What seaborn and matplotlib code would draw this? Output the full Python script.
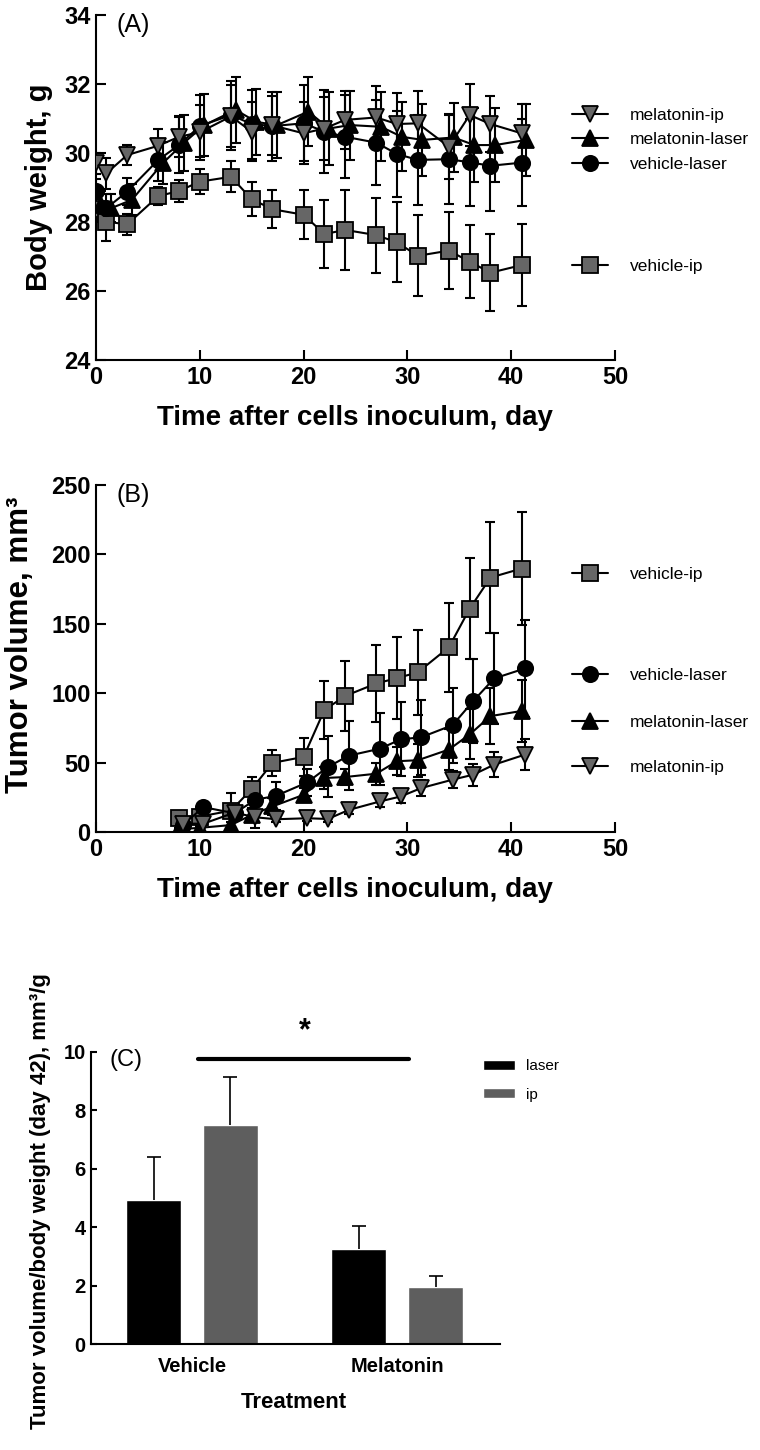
import numpy as np
import pandas as pd
import matplotlib
matplotlib.use("Agg")
import matplotlib.pyplot as plt
from matplotlib.lines import Line2D
from matplotlib.legend import Legend
import seaborn as sns

# ---- data ----
# (A) body weight, g
days_a = [0, 1, 3, 6, 8, 10, 13, 15, 17, 20, 22, 24, 27, 29, 31, 34, 36, 38, 41]
bw_veh_ip = [28.37, 28.01, 27.93, 28.75, 28.90, 29.17, 29.31, 28.66, 28.37, 28.21,
             27.65, 27.77, 27.62, 27.41, 27.02, 27.17, 26.85, 26.53, 26.75]
bw_veh_ip_err = [0.3, 0.55, 0.3, 0.26, 0.33, 0.37, 0.45, 0.5, 0.55, 0.71,
                 0.98, 1.17, 1.09, 1.16, 1.17, 1.11, 1.06, 1.11, 1.18]
bw_veh_laser = [28.90, 28.40, 28.88, 29.80, 30.23, 30.78, 31.10, 30.84, 30.78, 30.86,
                30.62, 30.47, 30.30, 29.97, 29.80, 29.82, 29.73, 29.63, 29.72]
bw_veh_laser_err = [0.35, 0.4, 0.4, 0.6, 0.8, 0.9, 1.0, 1.0, 1.0, 1.1,
                    1.2, 1.2, 1.23, 1.25, 1.3, 1.3, 1.27, 1.3, 1.26]
bw_mel_laser = [28.50, 28.40, 28.64, 29.71, 30.29, 30.81, 31.25, 30.90, 30.81, 31.20,
                30.71, 30.81, 30.76, 30.47, 30.38, 30.45, 30.23, 30.23, 30.38]
bw_mel_laser_err = [0.4, 0.4, 0.45, 0.6, 0.8, 0.9, 0.95, 0.95, 0.95, 1.0,
                    1.05, 1.0, 1.0, 1.0, 1.04, 1.0, 1.06, 1.08, 1.05]
bw_mel_ip = [29.70, 29.41, 29.94, 30.21, 30.47, 30.60, 31.06, 30.62, 30.80, 30.57,
             30.71, 30.96, 31.03, 30.84, 30.86, 30.18, 31.10, 30.84, 30.57]
bw_mel_ip_err = [0.3, 0.45, 0.3, 0.5, 0.6, 0.8, 0.9, 0.85, 0.85, 0.9,
                 0.9, 0.85, 0.9, 0.9, 0.95, 0.92, 0.9, 0.8, 0.85]

# (B) tumor volume, mm3
days_b = [8, 10, 13, 15, 17, 20, 22, 24, 27, 29, 31, 34, 36, 38, 41]
tv_veh_ip = [9.9, 11.1, 15.4, 30.9, 49.8, 54.1, 87.9, 98.0, 107.0, 110.9, 115.0, 133.1, 160.9, 183.3, 189.8]
tv_veh_ip_err = [2, 3, 13, 9, 9.6, 13.7, 21, 25.4, 28, 29.7, 30.8, 32, 36.2, 39.8, 41]
tv_veh_laser = [5, 17.9, 13.5, 23.2, 26.1, 35.7, 46.9, 55, 60, 66.7, 68.3, 77, 94.4, 110.6, 117.9]
tv_veh_laser_err = [2, 3, 5, 8, 10, 10, 22, 25, 26, 26.6, 27, 27, 30, 33, 35]
tv_mel_laser = [2, 3, 5, 12.3, 18.4, 26.8, 38.9, 39.6, 42, 51, 51.7, 59.4, 70.3, 83.5, 87.2]
tv_mel_laser_err = [1, 1, 2, 5, 6, 5, 8, 6, 8, 10, 12, 15, 18, 20, 22]
tv_mel_ip = [6, 6, 14, 10.6, 9.2, 9.9, 9.4, 15.9, 22, 25.6, 31.7, 37.7, 41.3, 48.5, 55.8]
tv_mel_ip_err = [1, 1, 4, 8, 2, 2, 2, 3, 4, 5, 6, 6, 8, 9, 11]

# (C) tumor volume / body weight at day 42
treatments = ["Vehicle", "Melatonin"]
routes = ["laser", "ip"]
ratio_laser = [4.93, 3.24]
ratio_laser_err = [1.48, 0.78]
ratio_ip = [7.50, 1.94]
ratio_ip_err = [1.63, 0.40]

GRAY = "#666666"
BARGRAY = "#5e5e5e"
FONT = ["Liberation Sans", "DejaVu Sans"]

sns.set_theme(style="ticks", rc={
    "axes.edgecolor": "black", "axes.labelcolor": "black", "text.color": "black",
    "xtick.color": "black", "ytick.color": "black", "axes.linewidth": 1.5,
})
plt.rcParams["font.family"] = FONT

styles = {
    "vehicle-ip": dict(marker="s", markerfacecolor=GRAY, markersize=11),
    "vehicle-laser": dict(marker="o", markerfacecolor="black", markersize=11),
    "melatonin-laser": dict(marker="^", markerfacecolor="black", markersize=11),
    "melatonin-ip": dict(marker="v", markerfacecolor=GRAY, markersize=12),
}


def growth_panel(ax, days, series, shift, legend_y, ylim, yticks, ylabel, tag):
    for name, (vals, errs) in series.items():
        x = np.array(days) + shift.get(name, 0)
        ax.errorbar(x, vals, yerr=errs, fmt="none", ecolor="black",
                    elinewidth=1.5, capsize=3.5, capthick=1.5, zorder=2)
        sns.lineplot(x=x, y=vals, ax=ax, color="black", lw=1.5, errorbar=None,
                     markeredgecolor="black", markeredgewidth=1.3, zorder=3,
                     **styles[name])
    if ax.get_legend() is not None:
        ax.get_legend().remove()
    for name, ly in legend_y.items():
        h = Line2D([], [], color="black", lw=1.5, markeredgecolor="black",
                   markeredgewidth=1.3, **styles[name])
        leg = Legend(ax, [h], [name], loc="center left", bbox_to_anchor=(0.917, ly),
                     frameon=False, fontsize=12.5, handlelength=2.1,
                     handletextpad=1.25, borderpad=0, borderaxespad=0)
        ax.add_artist(leg)
    ax.set_xlim(0, 50)
    ax.set_ylim(*ylim)
    ax.set_xticks([0, 10, 20, 30, 40, 50])
    ax.set_yticks(yticks)
    sns.despine(ax=ax)
    ax.tick_params(direction="in", length=7, width=1.5, labelsize=17, pad=4)
    for lab in ax.get_xticklabels() + ax.get_yticklabels():
        lab.set_fontweight("bold")
    ax.set_xlabel("Time after cells inoculum, day", fontsize=20, fontweight="bold")
    ax.xaxis.set_label_coords(0.499, -0.13)
    ax.set_ylabel(ylabel, fontsize=21, fontweight="bold")
    ax.yaxis.set_label_coords(-0.083, 0.5)
    ax.text(0.04, 0.97, tag, transform=ax.transAxes, fontsize=18, va="center", ha="left")


fig = plt.figure(figsize=(7.6, 14.5), dpi=100)
W, H = 760, 1450

ax_a = fig.add_axes([96 / W, 1 - 360 / H, 519 / W, 345 / H])
growth_panel(
    ax_a, days_a,
    {"vehicle-ip": (bw_veh_ip, bw_veh_ip_err),
     "vehicle-laser": (bw_veh_laser, bw_veh_laser_err),
     "melatonin-laser": (bw_mel_laser, bw_mel_laser_err),
     "melatonin-ip": (bw_mel_ip, bw_mel_ip_err)},
    {"melatonin-laser": 0.45},
    {"melatonin-ip": 0.710, "melatonin-laser": 0.638, "vehicle-laser": 0.568, "vehicle-ip": 0.270},
    (24, 34), [24, 26, 28, 30, 32, 34], "Body weight, g", "(A)")

ax_b = fig.add_axes([96 / W, 1 - 832 / H, 519 / W, 347 / H])
growth_panel(
    ax_b, days_b,
    {"vehicle-ip": (tv_veh_ip, tv_veh_ip_err),
     "vehicle-laser": (tv_veh_laser, tv_veh_laser_err),
     "melatonin-laser": (tv_mel_laser, tv_mel_laser_err),
     "melatonin-ip": (tv_mel_ip, tv_mel_ip_err)},
    {"vehicle-laser": 0.35, "melatonin-ip": 0.35},
    {"vehicle-ip": 0.741, "vehicle-laser": 0.450, "melatonin-laser": 0.317, "melatonin-ip": 0.187},
    (0, 250), [0, 50, 100, 150, 200, 250], "Tumor volume, mm³", "(B)")
ax_b.yaxis.label.set_fontsize(22.5)
ax_b.yaxis.set_label_coords(-0.1175, 0.54)

# ---- (C) bar chart ----
ax_c = fig.add_axes([90.7 / W, 1 - 1344 / H, 409.3 / W, 292.3 / H])
df_c = pd.DataFrame({
    "Treatment": treatments * 2,
    "route": ["laser"] * 2 + ["ip"] * 2,
    "ratio": ratio_laser + ratio_ip,
})
errs_c = {"laser": ratio_laser_err, "ip": ratio_ip_err}
sns.barplot(data=df_c, x="Treatment", y="ratio", hue="route", order=treatments,
            hue_order=routes, palette={"laser": "black", "ip": BARGRAY},
            width=0.75, gap=0.28, errorbar=None, ax=ax_c, saturation=1)
for cont, route in zip(ax_c.containers, routes):
    for bar, e in zip(cont, errs_c[route]):
        _, caps, _ = ax_c.errorbar(bar.get_x() + bar.get_width() / 2, bar.get_height(),
                                   yerr=[[0], [e]], fmt="none", ecolor="black",
                                   elinewidth=1.2, capsize=4.7, capthick=1.2, zorder=1)
        caps[0].set_visible(False)  # only the upper cap
ax_c.set_xlim(-0.494, 1.502)
ax_c.set_ylim(0, 10)
ax_c.set_yticks([0, 2, 4, 6, 8, 10])
sns.despine(ax=ax_c)
ax_c.tick_params(axis="y", direction="in", length=4.5, width=1.5, labelsize=14.5)
ax_c.tick_params(axis="x", length=0, labelsize=14.5, pad=9)
for lab in ax_c.get_xticklabels() + ax_c.get_yticklabels():
    lab.set_fontweight("bold")
ax_c.set_xlabel("Treatment", fontsize=16, fontweight="bold")
ax_c.xaxis.set_label_coords(0.497, -0.164)
ax_c.set_ylabel("Tumor volume/body weight (day 42), mm³/g", fontsize=16, fontweight="bold")
ax_c.yaxis.set_label_coords(-0.097, 0.49)
handles, labels = ax_c.get_legend_handles_labels()
ax_c.legend(handles, labels, loc="upper left", bbox_to_anchor=(0.958, 0.975),
            frameon=False, fontsize=11, handlelength=2.1, handleheight=0.65,
            handletextpad=0.7, labelspacing=0.95, borderpad=0, borderaxespad=0)
ax_c.text(0.047, 0.97, "(C)", transform=ax_c.transAxes, fontsize=17, va="center", ha="left")
# significance bar between groups
ax_c.plot([0.03, 1.06], [9.75, 9.75], color="black", lw=3, clip_on=False)
ax_c.text(0.55, 10.2, "*", fontsize=22, fontweight="bold", ha="center", va="bottom")

fig.savefig("out.png", dpi=100)
